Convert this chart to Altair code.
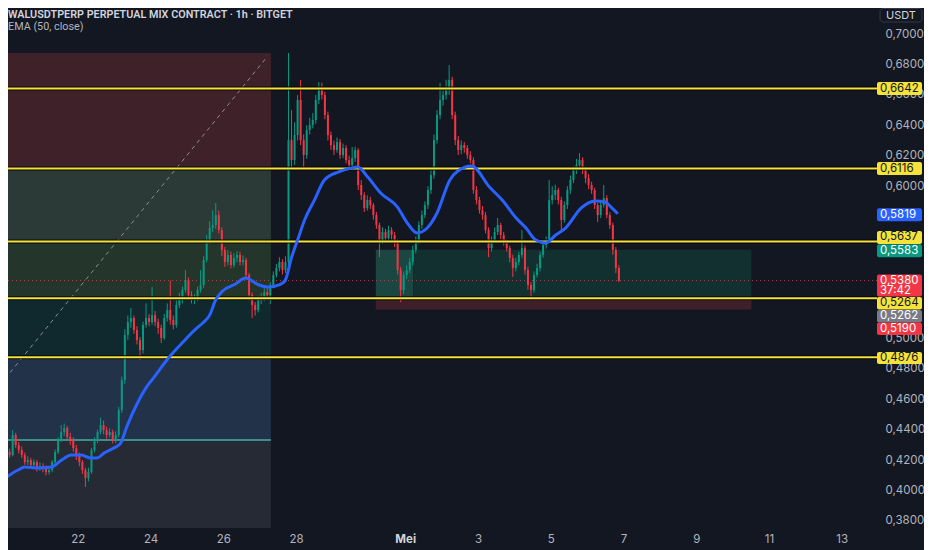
import altair as alt
import pandas as pd

# ---------------- data ----------------
FIRST_OPEN = 0.4230
# 2-hour candles starting 20 Apr 00:00
CLOSES = [
    0.4253, 0.4233, 0.4365, 0.4299, 0.4266, 0.4233, 0.4187, 0.4200, 0.4168, 0.4187, 0.4148, 0.4161,
    0.4148, 0.4122, 0.4135, 0.4187, 0.4253, 0.4332, 0.4385, 0.4411, 0.4352, 0.4332, 0.4279, 0.4233,
    0.4187, 0.4135, 0.4082, 0.4122, 0.4266, 0.4332, 0.4385, 0.4430, 0.4398, 0.4365, 0.4385, 0.4332,
    0.4365, 0.4529, 0.4726, 0.5022, 0.5107, 0.5134, 0.5055, 0.4989, 0.4923, 0.5088, 0.5134, 0.5107,
    0.5153, 0.5107, 0.5068, 0.5002, 0.5134, 0.5186, 0.5120, 0.5088, 0.5219, 0.5252, 0.5318, 0.5383,
    0.5285, 0.5252, 0.5265, 0.5318, 0.5351, 0.5515, 0.5646, 0.5725, 0.5745, 0.5810, 0.5712, 0.5581,
    0.5502, 0.5548, 0.5482, 0.5528, 0.5548, 0.5502, 0.5515, 0.5416, 0.5285, 0.5219, 0.5186, 0.5252,
    0.5265, 0.5304, 0.5285, 0.5351, 0.5416, 0.5462, 0.5502, 0.5449, 0.5502, 0.6303, 0.6172, 0.6336,
    0.6566, 0.6303, 0.6205, 0.6369, 0.6402, 0.6435, 0.6566, 0.6645, 0.6599, 0.6468, 0.6336, 0.6270,
    0.6238, 0.6290, 0.6205, 0.6251, 0.6172, 0.6139, 0.6185, 0.6238, 0.6008, 0.5942, 0.5856, 0.5909,
    0.5876, 0.5810, 0.5745, 0.5646, 0.5699, 0.5659, 0.5712, 0.5679, 0.5633, 0.5449, 0.5318, 0.5416,
    0.5449, 0.5502, 0.5581, 0.5646, 0.5745, 0.5810, 0.5876, 0.5975, 0.6073, 0.6303, 0.6468, 0.6566,
    0.6599, 0.6632, 0.6698, 0.6468, 0.6303, 0.6238, 0.6270, 0.6251, 0.6205, 0.6172, 0.5975, 0.5909,
    0.5843, 0.5810, 0.5712, 0.5593, 0.5646, 0.5699, 0.5745, 0.5679, 0.5633, 0.5593, 0.5528, 0.5462,
    0.5502, 0.5548, 0.5593, 0.5449, 0.5351, 0.5318, 0.5416, 0.5462, 0.5548, 0.5613, 0.5646, 0.5909,
    0.5942, 0.5975, 0.5909, 0.5778, 0.5876, 0.5975, 0.6041, 0.6106, 0.6139, 0.6172, 0.6106, 0.6053,
    0.6008, 0.5975, 0.5876, 0.5810, 0.5876, 0.5922, 0.5810, 0.5745, 0.5581, 0.5462, 0.5380,
]
HIGHS = [
    0.4280, 0.4275, 0.4398, 0.4380, 0.4320, 0.4290, 0.4250, 0.4225, 0.4215, 0.4205, 0.4200, 0.4185,
    0.4180, 0.4165, 0.4160, 0.4200, 0.4270, 0.4350, 0.4430, 0.4440, 0.4425, 0.4380, 0.4350, 0.4300,
    0.4250, 0.4200, 0.4150, 0.4150, 0.4280, 0.4350, 0.4400, 0.4480, 0.4460, 0.4420, 0.4410, 0.4400,
    0.4390, 0.4550, 0.4750, 0.5060, 0.5150, 0.5200, 0.5150, 0.5080, 0.5010, 0.5110, 0.5230, 0.5160,
    0.5337, 0.5180, 0.5130, 0.5090, 0.5160, 0.5230, 0.5380, 0.5150, 0.5250, 0.5300, 0.5340, 0.5449,
    0.5400, 0.5310, 0.5290, 0.5340, 0.5449, 0.5540, 0.5680, 0.5770, 0.5843, 0.5889, 0.5840, 0.5730,
    0.5600, 0.5580, 0.5570, 0.5560, 0.5574, 0.5570, 0.5545, 0.5530, 0.5430, 0.5300, 0.5240, 0.5280,
    0.5300, 0.5330, 0.5330, 0.5370, 0.5440, 0.5490, 0.5534, 0.5520, 0.5540, 0.6875, 0.6500, 0.6420,
    0.6599, 0.6698, 0.6340, 0.6400, 0.6450, 0.6480, 0.6600, 0.6685, 0.6680, 0.6620, 0.6490, 0.6360,
    0.6300, 0.6320, 0.6310, 0.6280, 0.6270, 0.6200, 0.6257, 0.6260, 0.6250, 0.6040, 0.5960, 0.5940,
    0.5930, 0.5890, 0.5830, 0.5760, 0.5730, 0.5720, 0.5740, 0.5730, 0.5700, 0.5650, 0.5470, 0.5440,
    0.5480, 0.5530, 0.5610, 0.5670, 0.5770, 0.5840, 0.5900, 0.6000, 0.6110, 0.6340, 0.6500, 0.6678,
    0.6640, 0.6700, 0.6796, 0.6720, 0.6490, 0.6330, 0.6300, 0.6290, 0.6270, 0.6230, 0.6190, 0.6000,
    0.5930, 0.5870, 0.5830, 0.5730, 0.5670, 0.5730, 0.5791, 0.5760, 0.5700, 0.5650, 0.5610, 0.5550,
    0.5530, 0.5570, 0.5712, 0.5610, 0.5470, 0.5370, 0.5440, 0.5490, 0.5570, 0.5640, 0.5670, 0.6041,
    0.6000, 0.6010, 0.5990, 0.5930, 0.5900, 0.6000, 0.6070, 0.6130, 0.6180, 0.6218, 0.6190, 0.6130,
    0.6080, 0.6030, 0.5990, 0.5890, 0.5900, 0.6008, 0.5940, 0.5830, 0.5760, 0.5600, 0.5480,
]
LOWS = [
    0.4215, 0.4215, 0.4225, 0.4280, 0.4245, 0.4215, 0.4170, 0.4168, 0.4148, 0.4150, 0.4125, 0.4130,
    0.4120, 0.4100, 0.4105, 0.4120, 0.4175, 0.4240, 0.4320, 0.4360, 0.4330, 0.4300, 0.4255, 0.4200,
    0.4160, 0.4110, 0.4023, 0.4060, 0.4110, 0.4250, 0.4310, 0.4370, 0.4370, 0.4340, 0.4350, 0.4310,
    0.4310, 0.4350, 0.4510, 0.4700, 0.4990, 0.5070, 0.5030, 0.4960, 0.4857, 0.4900, 0.5070, 0.5080,
    0.5090, 0.5080, 0.5030, 0.4969, 0.4990, 0.5110, 0.5090, 0.5060, 0.5070, 0.5200, 0.5230, 0.5300,
    0.5260, 0.5230, 0.5225, 0.5245, 0.5300, 0.5330, 0.5500, 0.5620, 0.5700, 0.5720, 0.5690, 0.5540,
    0.5470, 0.5480, 0.5460, 0.5465, 0.5500, 0.5480, 0.5480, 0.5390, 0.5250, 0.5134, 0.5150, 0.5170,
    0.5225, 0.5245, 0.5260, 0.5225, 0.5330, 0.5400, 0.5440, 0.5420, 0.5430, 0.5480, 0.6106, 0.6140,
    0.6300, 0.6270, 0.6106, 0.6180, 0.6340, 0.6380, 0.6410, 0.6540, 0.6570, 0.6440, 0.6300, 0.6240,
    0.6205, 0.6220, 0.6180, 0.6185, 0.6150, 0.6110, 0.6120, 0.6160, 0.5975, 0.5910, 0.5830, 0.5840,
    0.5850, 0.5780, 0.5720, 0.5534, 0.5620, 0.5640, 0.5640, 0.5650, 0.5600, 0.5420, 0.5238, 0.5290,
    0.5390, 0.5430, 0.5480, 0.5560, 0.5620, 0.5720, 0.5790, 0.5850, 0.5950, 0.6050, 0.6280, 0.6440,
    0.6530, 0.6570, 0.6600, 0.6440, 0.6270, 0.6205, 0.6210, 0.6220, 0.6180, 0.6150, 0.5950, 0.5880,
    0.5820, 0.5780, 0.5690, 0.5534, 0.5570, 0.5630, 0.5680, 0.5650, 0.5610, 0.5570, 0.5500, 0.5403,
    0.5440, 0.5480, 0.5530, 0.5420, 0.5320, 0.5271, 0.5300, 0.5400, 0.5440, 0.5530, 0.5590, 0.5630,
    0.5880, 0.5910, 0.5880, 0.5692, 0.5760, 0.5850, 0.5950, 0.6020, 0.6080, 0.6110, 0.6080, 0.6020,
    0.5980, 0.5950, 0.5850, 0.5765, 0.5790, 0.5860, 0.5790, 0.5720, 0.5550, 0.5430, 0.5370,
]
HOURS_PER_CANDLE = 2

EMA_HOURS = [0, 8.5, 13.0, 21.5, 30.7, 37.2, 43.7, 50.2, 56.7, 60.7, 65.2, 71.7, 76.3, 80.2, 86.7,
             93.3, 97.8, 108.9, 117.4, 125.9, 130.4, 135.0, 138.9, 143.5, 152.0, 158.5, 167.6, 174.1,
             180.7, 184.6, 189.1, 193.7, 197.6, 204.1, 210.7, 219.8, 228.3, 232.8, 239.3, 247.8,
             258.9, 265.4, 271.9, 278.5, 285.0, 293.5, 298.7, 307.8, 319.6, 328.0, 337.2, 343.7,
             350.2, 356.7, 363.3, 369.8, 380.2, 389.3, 395.9, 399.8, 404.3]
EMA_VALUES = [0.4082, 0.4135, 0.4155, 0.4148, 0.4155, 0.4200, 0.4233, 0.4233, 0.4214, 0.4214, 0.4246,
              0.4279, 0.4312, 0.4417, 0.4562, 0.4680, 0.4739, 0.4884, 0.4976, 0.5062, 0.5101, 0.5153,
              0.5252, 0.5311, 0.5357, 0.5396, 0.5351, 0.5337, 0.5351, 0.5377, 0.5534, 0.5666, 0.5778,
              0.5909, 0.6041, 0.6093, 0.6119, 0.6126, 0.6060, 0.5955, 0.5863, 0.5758, 0.5692, 0.5725,
              0.5824, 0.6041, 0.6100, 0.6133, 0.5995, 0.5909, 0.5791, 0.5725, 0.5646, 0.5627, 0.5679,
              0.5725, 0.5857, 0.5903, 0.5896, 0.5863, 0.5819]

LEVELS = [0.6642, 0.6116, 0.5637, 0.5264, 0.4876]
LAST_PRICE = 0.5380
COUNTDOWN = "37:42"
EMA_LAST = 0.5819
TARGET = 0.5583
ENTRY = 0.5262
STOP = 0.5190

LEFT_BOX_HOURS = [0, 175.4]
LEFT_BAND_EDGES = [0.3747, 0.4332, 0.4876, 0.5264, 0.5637, 0.6116, 0.6876]
RIGHT_BOX_HOURS = [244.6, 269.3, 492.4]
DIAG_HOURS = [0, 172.8]
DIAG_PRICES = [0.4735, 0.6849]

TICK_HOURS = [48, 96, 144, 192, 264, 312, 360, 408, 456, 504, 552]
TICK_LABELS = ["22", "24", "26", "28", "Mei", "3", "5", "7", "9", "11", "13"]
PRICE_TICKS = [0.38, 0.40, 0.42, 0.44, 0.46, 0.48, 0.50, 0.60, 0.62, 0.64, 0.66, 0.68, 0.70]

TITLE = "WALUSDTPERP PERPETUAL MIX CONTRACT · 1h · BITGET"
SUBTITLE = "EMA (50, close)"
CURRENCY = "USDT"

# ---------------- style ----------------
W, H = 864, 520
PAD_RIGHT, PAD_BOTTOM = 52, 22
BG = "#131722"
UP, DOWN = "#089981", "#f23645"
YELLOW = "#f5e23b"
BLUE = "#2962ff"
AXIS_TXT = "#b2b5be"
FONT = "Inter"
TITLE_FONT = "Roboto"
LEFT_BAND_COLORS = ["#262a35", "#213249", "#10292e", "#24352c", "#2b3a36", "#3f2229"]
RIGHT_COLORS = ["#1b4641", "#12302f", "#3e1f2a"]
TAG_X0, TAG_X1 = 869, 914

X_SCALE = alt.Scale(domain=[5.22, 568.7], nice=False, zero=False)
Y_SCALE = alt.Scale(domain=[0.3754, 0.7171], nice=False, zero=False)

label_expr = "".join(f"datum.value == {h} ? '{l}' : " for h, l in zip(TICK_HOURS, TICK_LABELS)) + "''"
X_AXIS = alt.Axis(values=TICK_HOURS, labelExpr=label_expr, title=None, grid=False, ticks=False,
                  domain=False, labelFont=FONT, labelFontSize=11.5, labelPadding=5,
                  labelColor={"condition": {"test": "datum.value == 264", "value": "#d1d4dc"}, "value": AXIS_TXT},
                  labelFontWeight={"condition": {"test": "datum.value == 264", "value": "bold"}, "value": "normal"},
                  labelOverlap=False, labelFlush=False)
Y_AXIS = alt.Axis(orient="right", values=PRICE_TICKS,
                  labelExpr="replace(format(datum.value, '.4f'), '.', ',')",
                  title=None, grid=False, ticks=False, domain=False, labelFont=FONT,
                  labelFontSize=11.5, labelPadding=13, labelAlign="left", labelColor=AXIS_TXT,
                  labelOverlap=False)


def X(f):
    return alt.X(f, type="quantitative", scale=X_SCALE, axis=X_AXIS)


def Y(f):
    return alt.Y(f, type="quantitative", scale=Y_SCALE, axis=Y_AXIS)


layers = []

# ---- left position / zone tool ----
bands = pd.DataFrame({
    "x1": [LEFT_BOX_HOURS[0]] * 6, "x2": [LEFT_BOX_HOURS[1]] * 6,
    "y1": LEFT_BAND_EDGES[:-1], "y2": LEFT_BAND_EDGES[1:], "fill": LEFT_BAND_COLORS,
})
right = pd.DataFrame({
    "x1": [RIGHT_BOX_HOURS[0], RIGHT_BOX_HOURS[1], RIGHT_BOX_HOURS[0]],
    "x2": [RIGHT_BOX_HOURS[1], RIGHT_BOX_HOURS[2], RIGHT_BOX_HOURS[2]],
    "y1": [ENTRY, ENTRY, STOP], "y2": [TARGET, TARGET, ENTRY], "fill": RIGHT_COLORS,
})
boxes = pd.concat([bands, right], ignore_index=True)
layers.append(alt.Chart(boxes).mark_rect(clip=True).encode(
    x=X("x1"), x2=alt.X2("x2"), y=Y("y1"), y2=alt.Y2("y2"), fill=alt.Fill("fill:N", scale=None)))

teal = pd.DataFrame({"x1": [LEFT_BOX_HOURS[0]], "x2": [LEFT_BOX_HOURS[1]], "y": [LEFT_BAND_EDGES[1]]})
layers.append(alt.Chart(teal).mark_rule(clip=True, color="#3b8f88", strokeWidth=2).encode(
    x=X("x1"), x2=alt.X2("x2"), y=Y("y")))

diag = pd.DataFrame({"x1": [DIAG_HOURS[0]], "x2": [DIAG_HOURS[1]], "y1": [DIAG_PRICES[0]], "y2": [DIAG_PRICES[1]]})
layers.append(alt.Chart(diag).mark_rule(clip=True, color="#8a8d96", strokeWidth=1, strokeDash=[4, 4]).encode(
    x=X("x1"), x2=alt.X2("x2"), y=Y("y1"), y2=alt.Y2("y2")))

last = pd.DataFrame({"p": [LAST_PRICE]})
layers.append(alt.Chart(last).mark_rule(color=DOWN, strokeWidth=1, strokeDash=[1, 3], opacity=0.8).encode(
    x=alt.value(0), x2=alt.value(TAG_X0), y=Y("p")))

# ---- candles ----
opens = [FIRST_OPEN] + CLOSES[:-1]
candles = pd.DataFrame({
    "hour": [HOURS_PER_CANDLE * i + HOURS_PER_CANDLE / 2 for i in range(len(CLOSES))],
    "open": opens, "close": CLOSES, "high": HIGHS, "low": LOWS,
})
candles["dir"] = ["up" if c >= o else "down" for o, c in zip(opens, CLOSES)]
COLOR = alt.Color("dir:N", scale=alt.Scale(domain=["up", "down"], range=[UP, DOWN]), legend=None)
cbase = alt.Chart(candles)
layers.append(cbase.mark_rule(clip=True, strokeWidth=1).encode(
    x=X("hour"), y=Y("low"), y2=alt.Y2("high"), color=COLOR))
layers.append(cbase.mark_bar(clip=True, size=2).encode(
    x=X("hour"), y=Y("open"), y2=alt.Y2("close"), color=COLOR))

# ---- horizontal levels ----
lv = pd.DataFrame({"p": LEVELS})
layers.append(alt.Chart(lv).mark_rule(color="#000000", strokeWidth=4, opacity=0.85).encode(
    x=alt.value(0), x2=alt.value(TAG_X0), y=Y("p")))
layers.append(alt.Chart(lv).mark_rule(color=YELLOW, strokeWidth=2).encode(
    x=alt.value(0), x2=alt.value(TAG_X0), y=Y("p")))

# ---- EMA ----
ema = pd.DataFrame({"h": EMA_HOURS, "v": EMA_VALUES})
layers.append(alt.Chart(ema).mark_line(clip=True, color=BLUE, strokeWidth=3, interpolate="monotone").encode(
    x=X("h"), y=Y("v")))


# ---- price tags on the right ----
def tag(price, lines, fill, txt, top, bottom, offsets):
    base = alt.Chart(pd.DataFrame({"p": [price]}))
    out = [base.mark_rect(fill=fill, yOffset=top, y2Offset=bottom, cornerRadius=2).encode(
        x=alt.value(TAG_X0), x2=alt.value(TAG_X1), y=Y("p"), y2=alt.Y2("p"))]
    for s, off in zip(lines, offsets):
        out.append(base.mark_text(align="left", baseline="middle", dy=off, font=FONT, fontSize=11.5,
                                  color=txt).encode(x=alt.value(TAG_X0 + 3), y=Y("p"), text=alt.value(s)))
    return out


def fmt(v):
    return f"{v:.4f}".replace(".", ",")


for lvl, top, bottom in zip(LEVELS, [-6.5, -6.5, -10.5, -1.25, -5.3], [6.5, 6.5, 2.5, 11.25, 6.7]):
    layers += tag(lvl, [fmt(lvl)], YELLOW, "#131722", top, bottom, [(top + bottom) / 2])
layers += tag(EMA_LAST, [fmt(EMA_LAST)], BLUE, "#ffffff", -5.5, 7.5, [1])
layers += tag(TARGET, [fmt(TARGET)], UP, "#ffffff", -5.5, 7.5, [1])
layers += tag(LAST_PRICE, [fmt(LAST_PRICE), COUNTDOWN], DOWN, "#ffffff", -6, 16, [0.5, 10.5])
layers += tag(ENTRY, [fmt(ENTRY)], "#787b86", "#ffffff", 11.45, 23.95, [17.7])
layers += tag(STOP, [fmt(STOP)], DOWN, "#ffffff", 12.95, 25.45, [19.2])

# ---- header texts ----
txt = alt.Chart(pd.DataFrame({"t": [TITLE]}))
layers.append(txt.mark_text(align="left", baseline="alphabetic", font=TITLE_FONT, fontSize=10.8,
                            fontWeight=600, color="#d1d4dc").encode(x=alt.value(0), y=alt.value(10), text="t:N"))
sub = alt.Chart(pd.DataFrame({"t": [SUBTITLE]}))
layers.append(sub.mark_text(align="left", baseline="alphabetic", font=TITLE_FONT, fontSize=10.8,
                            color=AXIS_TXT).encode(x=alt.value(0), y=alt.value(22), text="t:N"))
cur = alt.Chart(pd.DataFrame({"t": [CURRENCY]}))
layers.append(cur.mark_rect(fill=BG, stroke="#363a45", strokeWidth=1, cornerRadius=3).encode(
    x=alt.value(872), x2=alt.value(914), y=alt.value(0.5), y2=alt.value(14)))
layers.append(cur.mark_text(align="center", baseline="middle", font=FONT, fontSize=11,
                            color="#d1d4dc").encode(x=alt.value(893), y=alt.value(7.5), text="t:N"))

chart = alt.layer(*layers).properties(
    width=W, height=H,
    padding={"left": 0, "top": 0, "right": PAD_RIGHT, "bottom": PAD_BOTTOM},
    autosize=alt.AutoSizeParams(type="none"),
    background=BG,
).configure_view(strokeWidth=0)

chart.save("out.html", embed_options={"renderer": "svg", "actions": False})
